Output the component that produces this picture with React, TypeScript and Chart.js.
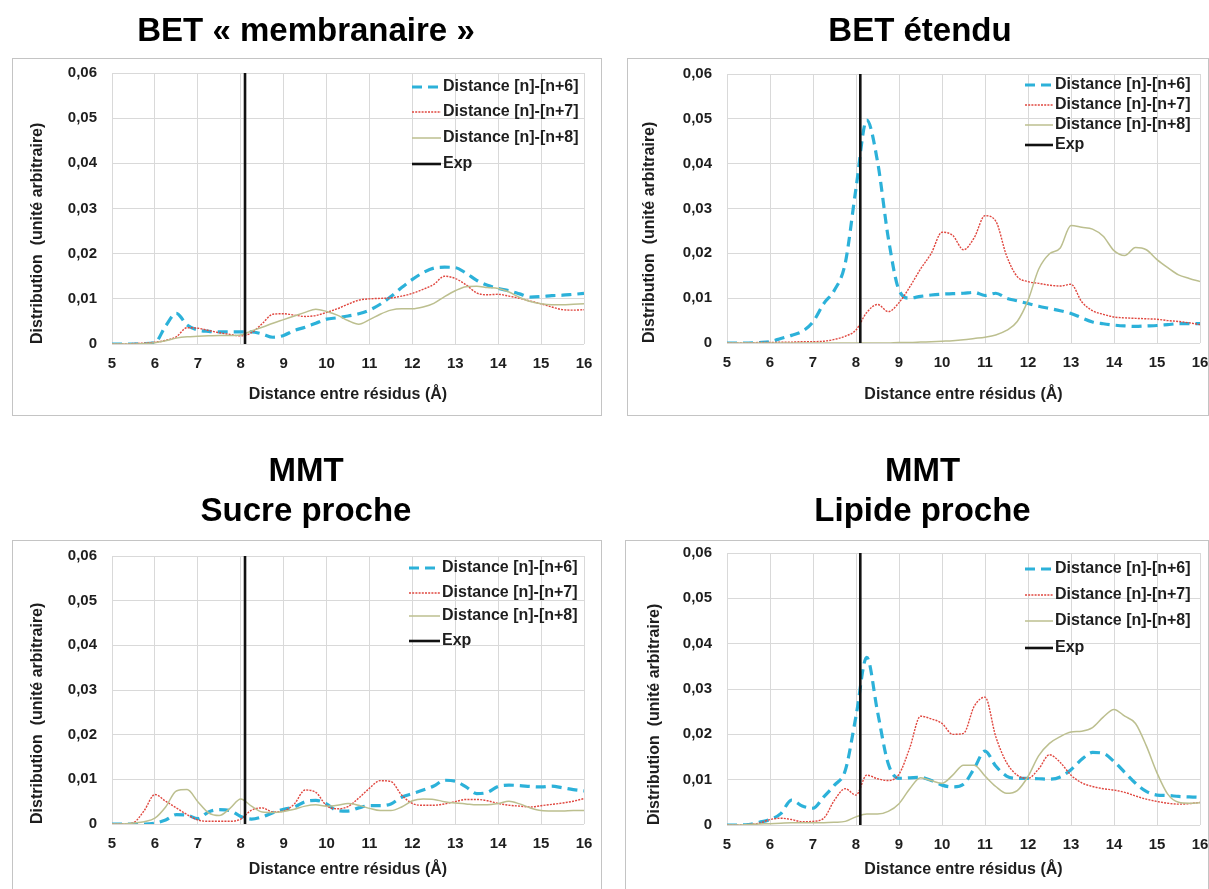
import React, { useEffect, useRef } from 'react';
import { Chart, registerables } from 'chart.js';

Chart.register(...registerables);

// ---------- DATA ----------
const DISTANCES = [5, 5.25, 5.5, 5.75, 6, 6.25, 6.5, 6.75, 7, 7.25, 7.5, 7.75, 8, 8.25, 8.5, 8.75, 9, 9.25, 9.5, 9.75, 10, 10.25, 10.5, 10.75, 11, 11.25, 11.5, 11.75, 12, 12.25, 12.5, 12.75, 13, 13.25, 13.5, 13.75, 14, 14.25, 14.5, 14.75, 15, 15.25, 15.5, 15.75, 16];

const Y_TICK_LABELS = ['0', '0,01', '0,02', '0,03', '0,04', '0,05', '0,06'];
const SERIES_LABELS = ['Distance [n]-[n+6]', 'Distance [n]-[n+7]', 'Distance [n]-[n+8]', 'Exp'];
const X_AXIS_TITLE = 'Distance entre résidus (Å)';
const Y_AXIS_TITLE = 'Distribution  (unité arbitraire)';

const EXP_X = [8.1, 8.1];
const EXP_Y = [0, 0.06];

// BET « membranaire »
const MEMB_N6 = [0, 0, 0, 0.0001, 0.0003, 0.004, 0.0068, 0.0042, 0.0031, 0.0028, 0.0027, 0.0027, 0.0027, 0.0027, 0.0022, 0.0015, 0.0019, 0.003, 0.0037, 0.0046, 0.0055, 0.0058, 0.0062, 0.0067, 0.0075, 0.0088, 0.0105, 0.0125, 0.0143, 0.0158, 0.0168, 0.017, 0.0169, 0.0157, 0.0141, 0.013, 0.0123, 0.0118, 0.0111, 0.0104, 0.0105, 0.0107, 0.0108, 0.011, 0.0112];
const MEMB_N7 = [0, 0, 0.0001, 0.0002, 0.0004, 0.0008, 0.0016, 0.0036, 0.0035, 0.003, 0.0025, 0.0021, 0.0018, 0.0025, 0.0045, 0.0066, 0.0067, 0.0064, 0.0061, 0.0063, 0.007, 0.0078, 0.0088, 0.0097, 0.01, 0.0101, 0.0102, 0.0106, 0.0112, 0.0121, 0.0132, 0.015, 0.0145, 0.0131, 0.0113, 0.0109, 0.011, 0.0106, 0.0101, 0.0095, 0.0089, 0.0082, 0.0076, 0.0075, 0.0076];
const MEMB_N8 = [0, 0, 0, 0.0001, 0.0003, 0.0007, 0.0013, 0.0016, 0.0017, 0.0018, 0.0019, 0.0019, 0.002, 0.0029, 0.0037, 0.0046, 0.0054, 0.0062, 0.007, 0.0077, 0.0072, 0.0064, 0.0052, 0.0044, 0.0054, 0.0066, 0.0075, 0.0078, 0.0078, 0.0082, 0.009, 0.0105, 0.0118, 0.0127, 0.0128, 0.0125, 0.0123, 0.0115, 0.0103, 0.0094, 0.0089, 0.0087, 0.0087, 0.0088, 0.0089];

// BET étendu
const ETENDU_N6 = [0, 0, 0, 0.0001, 0.0003, 0.001, 0.0017, 0.0026, 0.0047, 0.0088, 0.0118, 0.0178, 0.0345, 0.0497, 0.0405, 0.0235, 0.0118, 0.01, 0.0104, 0.0107, 0.0109, 0.011, 0.0111, 0.0113, 0.0106, 0.0111, 0.01, 0.0094, 0.0088, 0.0082, 0.0077, 0.0072, 0.0066, 0.0056, 0.0047, 0.0043, 0.004, 0.0038, 0.0037, 0.0038, 0.0039, 0.0041, 0.0043, 0.0043, 0.0043];
const ETENDU_N7 = [0, 0, 0, 0.0001, 0.0001, 0.0002, 0.0002, 0.0003, 0.0003, 0.0004, 0.0008, 0.0015, 0.0029, 0.0068, 0.0086, 0.007, 0.009, 0.0125, 0.0165, 0.02, 0.0247, 0.024, 0.0208, 0.0235, 0.0284, 0.0272, 0.0195, 0.0148, 0.0137, 0.0133, 0.0129, 0.0127, 0.0131, 0.0092, 0.0072, 0.0064, 0.0058, 0.0056, 0.0055, 0.0054, 0.0053, 0.005, 0.0048, 0.0045, 0.0041];
const ETENDU_N8 = [0, 0, 0, 0, 0, 0, 0, 0, 0, 0, 0, 0, 0, 0, 0, 0, 0.0001, 0.0001, 0.0002, 0.0003, 0.0004, 0.0005, 0.0007, 0.001, 0.0013, 0.0018, 0.0028, 0.0048, 0.0095, 0.0165, 0.0199, 0.0212, 0.0262, 0.0258, 0.0254, 0.0238, 0.0206, 0.0195, 0.0213, 0.0208, 0.0186, 0.0168, 0.0152, 0.0144, 0.0137];

// MMT Sucre proche
const SUCRE_N6 = [0, 0, 0, 0, 0.0002, 0.0009, 0.0021, 0.002, 0.0012, 0.0027, 0.0032, 0.003, 0.0017, 0.0011, 0.0016, 0.0025, 0.0033, 0.0038, 0.005, 0.0053, 0.0045, 0.003, 0.0029, 0.0036, 0.0041, 0.0041, 0.0045, 0.006, 0.0068, 0.0076, 0.0085, 0.0098, 0.0096, 0.0083, 0.0068, 0.0071, 0.0084, 0.0087, 0.0086, 0.0084, 0.0083, 0.0085, 0.0081, 0.0077, 0.0074];
const SUCRE_N7 = [0, 0, 0.0003, 0.003, 0.0066, 0.0051, 0.0036, 0.0021, 0.0009, 0.0006, 0.0006, 0.0006, 0.0011, 0.0031, 0.0036, 0.0027, 0.0029, 0.0045, 0.0076, 0.0071, 0.0041, 0.0034, 0.0039, 0.0058, 0.008, 0.0097, 0.0095, 0.0065, 0.0046, 0.0042, 0.0042, 0.0045, 0.005, 0.0055, 0.0055, 0.0052, 0.0046, 0.0042, 0.004, 0.0038, 0.0041, 0.0044, 0.0047, 0.0051, 0.0057];
const SUCRE_N8 = [0, 0, 0.0002, 0.0005, 0.0013, 0.0038, 0.0074, 0.0077, 0.005, 0.0025, 0.0019, 0.0035, 0.0056, 0.004, 0.0027, 0.0026, 0.0028, 0.0033, 0.004, 0.0043, 0.004, 0.0042, 0.0046, 0.0042, 0.0035, 0.003, 0.003, 0.0038, 0.0052, 0.0056, 0.0055, 0.005, 0.0047, 0.0045, 0.0043, 0.0043, 0.0046, 0.0051, 0.0045, 0.0036, 0.003, 0.0029, 0.0029, 0.003, 0.003];

// MMT Lipide proche
const LIPIDE_N6 = [0, 0, 0.0001, 0.0006, 0.0012, 0.0025, 0.0055, 0.0042, 0.0037, 0.0062, 0.0088, 0.012, 0.024, 0.037, 0.025, 0.0135, 0.0103, 0.0104, 0.0105, 0.0098, 0.0088, 0.0084, 0.009, 0.0125, 0.0163, 0.013, 0.0108, 0.0103, 0.0103, 0.0102, 0.0101, 0.0106, 0.0122, 0.0145, 0.016, 0.0158, 0.014, 0.0116, 0.0092, 0.0074, 0.0066, 0.0065, 0.0063, 0.0062, 0.0061];
const LIPIDE_N7 = [0, 0, 0.0001, 0.0004, 0.0012, 0.0015, 0.0012, 0.0007, 0.0008, 0.0015, 0.0055, 0.008, 0.0066, 0.011, 0.0102, 0.0098, 0.0112, 0.017, 0.024, 0.0234, 0.0224, 0.02, 0.0202, 0.0262, 0.0282, 0.0195, 0.0138, 0.011, 0.0103, 0.0124, 0.0155, 0.0138, 0.011, 0.0093, 0.0085, 0.008, 0.0077, 0.0072, 0.0064, 0.0057, 0.0052, 0.0048, 0.0046, 0.0047, 0.005];
const LIPIDE_N8 = [0, 0, 0.0001, 0.0002, 0.0003, 0.0004, 0.0005, 0.0005, 0.0005, 0.0005, 0.0006, 0.0008, 0.0018, 0.0024, 0.0024, 0.003, 0.0047, 0.008, 0.0104, 0.0098, 0.0092, 0.011, 0.0132, 0.0132, 0.0108, 0.0085, 0.007, 0.0076, 0.0107, 0.0153, 0.018, 0.0195, 0.0205, 0.0207, 0.0215, 0.0238, 0.0255, 0.024, 0.0224, 0.0175, 0.0115, 0.0068, 0.005, 0.0048, 0.0049];

const TITLE_MEMB = 'BET « membranaire »';
const TITLE_ETENDU = 'BET étendu';
const TITLE_SUCRE = ['MMT', 'Sucre proche'];
const TITLE_LIPIDE = ['MMT', 'Lipide proche'];

// ---------- STYLE / LAYOUT ----------
const FONT = '"Liberation Sans", Arial, Helvetica, sans-serif';
const INK = '#1e1e1e';
const GRID = '#d9d9d9';
const BOX = '#c4c4c4';
const STYLES = [
  { color: '#2cb1d9', width: 3.2, dash: [10, 6] },
  { color: '#e0473f', width: 1.4, dash: [2, 1.2] },
  { color: '#bcbf8f', width: 1.5, dash: [] as number[] },
  { color: '#111111', width: 2.6, dash: [] as number[] },
];

type Geom = {
  left: number; top: number; width: number; height: number;
  padLeft: number; padRight: number; padBottom: number;
  titleTop: number; titleBottom: number; titleSize: number; titleLH: string;
  yAxisWidth: number; xAxisHeight: number;
  box: number[];
  legend: { lineX: number; lineLen: number; textX: number; rows: number[] };
};

const GEOM_MEMB: Geom = {
  left: 0, top: 0, width: 605, height: 420,
  padLeft: 28, padRight: 21, padBottom: 11.4,
  titleTop: 12, titleBottom: 21.4, titleSize: 33, titleLH: '39.6px',
  yAxisWidth: 84, xAxisHeight: 64.6,
  box: [12, 58, 601, 415],
  legend: { lineX: 412, lineLen: 29, textX: 443, rows: [87, 112, 138, 164] },
};
const GEOM_ETENDU: Geom = {
  left: 604, top: 0, width: 625, height: 420,
  padLeft: 36, padRight: 29, padBottom: 11.4,
  titleTop: 12, titleBottom: 22.4, titleSize: 33, titleLH: '39.6px',
  yAxisWidth: 87, xAxisHeight: 65.6,
  box: [23, 58, 604, 415],
  legend: { lineX: 421, lineLen: 28, textX: 451, rows: [85, 105, 125, 145] },
};
const GEOM_SUCRE: Geom = {
  left: 0, top: 420, width: 605, height: 469,
  padLeft: 28, padRight: 21, padBottom: 5.4,
  titleTop: 32, titleBottom: 24, titleSize: 33, titleLH: '40px',
  yAxisWidth: 84, xAxisHeight: 59.6,
  box: [12, 120, 601, 480],
  legend: { lineX: 409, lineLen: 31, textX: 442, rows: [148, 173, 196, 221] },
};
const GEOM_LIPIDE: Geom = {
  left: 604, top: 420, width: 625, height: 469,
  padLeft: 41, padRight: 29, padBottom: 5.4,
  titleTop: 32, titleBottom: 21, titleSize: 33, titleLH: '40px',
  yAxisWidth: 82, xAxisHeight: 58.6,
  box: [21, 120, 604, 480],
  legend: { lineX: 421, lineLen: 28, textX: 451, rows: [149, 175, 201, 228] },
};

function Panel({ title, series, g }: { title: string | string[]; series: number[][]; g: Geom }) {
  const ref = useRef<HTMLCanvasElement | null>(null);

  useEffect(() => {
    if (!ref.current) return;

    const boxPlugin = {
      id: 'panelBox',
      beforeDraw(chart: any) {
        const ctx = chart.ctx;
        ctx.save();
        ctx.strokeStyle = BOX;
        ctx.lineWidth = 1;
        const [x0, y0, x1, y1] = g.box;
        ctx.strokeRect(x0 + 0.5, y0 + 0.5, x1 - x0, y1 - y0);
        ctx.restore();
      },
    };

    const legendPlugin = {
      id: 'insideLegend',
      afterDraw(chart: any) {
        const ctx = chart.ctx;
        ctx.save();
        chart.data.datasets.forEach((ds: any, i: number) => {
          const y = g.legend.rows[i];
          ctx.beginPath();
          ctx.strokeStyle = ds.borderColor;
          ctx.lineWidth = ds.borderWidth;
          ctx.lineCap = 'butt';
          ctx.setLineDash(ds.borderDash || []);
          ctx.moveTo(g.legend.lineX, y);
          ctx.lineTo(g.legend.lineX + g.legend.lineLen, y);
          ctx.stroke();
          ctx.setLineDash([]);
          ctx.fillStyle = INK;
          ctx.font = `bold 16px ${FONT}`;
          ctx.textBaseline = 'middle';
          ctx.textAlign = 'left';
          ctx.fillText(ds.label, g.legend.textX, y);
        });
        ctx.restore();
      },
    };

    const lineSets = series.map((vals, i) => ({
      label: SERIES_LABELS[i],
      data: DISTANCES.map((x, k) => ({ x, y: vals[k] })),
      borderColor: STYLES[i].color,
      borderWidth: STYLES[i].width,
      borderDash: STYLES[i].dash,
      borderCapStyle: 'butt',
      pointRadius: 0,
      fill: false,
      cubicInterpolationMode: 'monotone',
      order: 3 - i,
    }));
    const expSet = {
      label: SERIES_LABELS[3],
      data: EXP_X.map((x, k) => ({ x, y: EXP_Y[k] })),
      borderColor: STYLES[3].color,
      borderWidth: STYLES[3].width,
      borderDash: STYLES[3].dash,
      pointRadius: 0,
      fill: false,
      tension: 0,
      order: 0,
    };

    const chart = new Chart(ref.current, {
      type: 'line',
      data: { datasets: [...lineSets, expSet] as any },
      options: {
        responsive: false,
        maintainAspectRatio: false,
        animation: false,
        devicePixelRatio: 1,
        layout: { padding: { left: g.padLeft, right: g.padRight, top: 0, bottom: g.padBottom } },
        plugins: {
          legend: { display: false },
          tooltip: { enabled: false },
          title: {
            display: true,
            text: title,
            color: '#000',
            font: { family: FONT, size: g.titleSize, weight: 'bold', lineHeight: g.titleLH },
            padding: { top: g.titleTop, bottom: g.titleBottom },
          },
        },
        scales: {
          x: {
            type: 'linear',
            min: 5,
            max: 16,
            afterFit: (s: any) => { s.height = g.xAxisHeight; },
            grid: { color: GRID, lineWidth: 1, drawTicks: false },
            border: { display: false },
            ticks: {
              stepSize: 1,
              autoSkip: false,
              maxRotation: 0,
              padding: 11,
              color: INK,
              font: { family: FONT, size: 15, weight: 'bold' },
            },
            title: {
              display: true,
              text: X_AXIS_TITLE,
              color: INK,
              font: { family: FONT, size: 16, weight: 'bold' },
              padding: { top: 0, bottom: 4 },
            },
          },
          y: {
            type: 'linear',
            min: 0,
            max: 0.06,
            afterFit: (s: any) => { s.width = g.yAxisWidth; },
            grid: { color: GRID, lineWidth: 1, drawTicks: false },
            border: { display: false },
            ticks: {
              stepSize: 0.01,
              padding: 15,
              color: INK,
              font: { family: FONT, size: 15, weight: 'bold' },
              callback: (_v: any, i: number) => Y_TICK_LABELS[i] ?? '',
            },
            title: {
              display: true,
              text: Y_AXIS_TITLE,
              align: 'start',
              color: INK,
              font: { family: FONT, size: 16, weight: 'bold' },
              padding: 0,
            },
          },
        },
      } as any,
      plugins: [boxPlugin, legendPlugin],
    });

    return () => chart.destroy();
  }, [title, series, g]);

  return (
    <div style={{ position: 'absolute', left: g.left, top: g.top, width: g.width, height: g.height }}>
      <canvas ref={ref} width={g.width} height={g.height} style={{ display: 'block', width: g.width, height: g.height }} />
    </div>
  );
}

const PANEL_MEMB = [MEMB_N6, MEMB_N7, MEMB_N8];
const PANEL_ETENDU = [ETENDU_N6, ETENDU_N7, ETENDU_N8];
const PANEL_SUCRE = [SUCRE_N6, SUCRE_N7, SUCRE_N8];
const PANEL_LIPIDE = [LIPIDE_N6, LIPIDE_N7, LIPIDE_N8];

export default function App() {
  return (
    <div style={{ position: 'fixed', left: 0, top: 0, width: 1209, height: 889, overflow: 'hidden', background: '#fff' }}>
      <Panel title={TITLE_MEMB} series={PANEL_MEMB} g={GEOM_MEMB} />
      <Panel title={TITLE_ETENDU} series={PANEL_ETENDU} g={GEOM_ETENDU} />
      <Panel title={TITLE_SUCRE} series={PANEL_SUCRE} g={GEOM_SUCRE} />
      <Panel title={TITLE_LIPIDE} series={PANEL_LIPIDE} g={GEOM_LIPIDE} />
    </div>
  );
}
